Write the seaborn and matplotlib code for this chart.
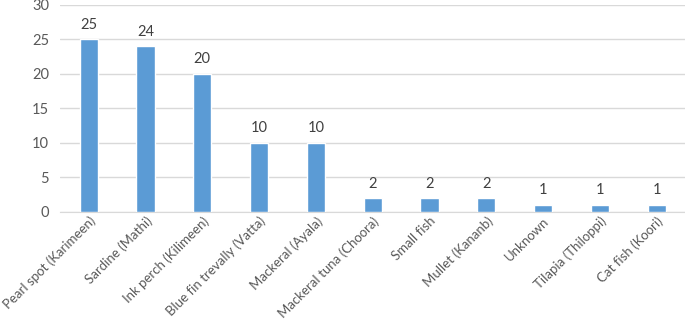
import matplotlib
matplotlib.use("Agg")
import matplotlib.pyplot as plt
import seaborn as sns
import pandas as pd

# data
species = ['Pearl spot (Karimeen)', 'Sardine (Mathi)', 'Ink perch (Kilimeen)',
           'Blue fin trevally (Vatta)', 'Mackeral (Ayala)', 'Mackeral tuna (Choora)',
           'Small fish', 'Mullet (Kananb)', 'Unknown', 'Tilapia (Thiloppi)',
           'Cat fish (Koori)']
counts = [25, 24, 20, 10, 10, 2, 2, 2, 1, 1, 1]

df = pd.DataFrame({'species': species, 'count': counts})

sns.set_style('white')
plt.rcParams['font.family'] = ['Lato', 'DejaVu Sans']

fig = plt.figure(figsize=(6.85, 3.24), dpi=100)
ax = fig.add_axes([0.088, 0.346, 0.912, 0.639])

sns.barplot(data=df, x='species', y='count', color='#5B9BD5', width=0.32,
            saturation=1, ax=ax, zorder=3)

for i, v in enumerate(counts):
    ax.text(i, v + 1.1, str(v), ha='center', va='bottom', fontsize=10.5, color='#404040')

ax.set_ylim(0, 30)
ax.set_xlim(-0.5, len(species) - 0.5)
ax.set_yticks(range(0, 31, 5))
ax.yaxis.grid(True, color='#D9D9D9', linewidth=1, zorder=0)
ax.set_xlabel('')
ax.set_ylabel('')
for s in ['top', 'right', 'left']:
    ax.spines[s].set_visible(False)
ax.spines['bottom'].set_color('#D9D9D9')
ax.tick_params(axis='y', length=0, labelsize=10.5, colors='#595959', pad=8)
ax.tick_params(axis='x', length=0, labelsize=9.5, colors='#595959', pad=2)
plt.setp(ax.get_xticklabels(), rotation=45, ha='right', rotation_mode='anchor')

fig.savefig('out.png', dpi=100)
